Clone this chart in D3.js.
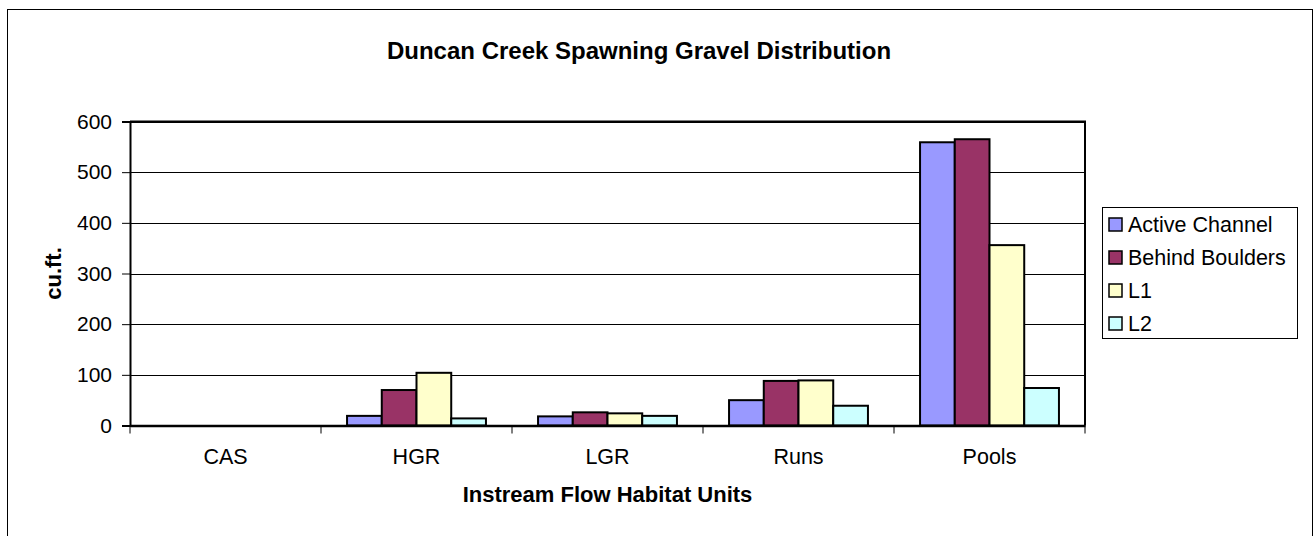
<!DOCTYPE html>
<html>
<head>
<meta charset="utf-8">
<script src="https://cdn.jsdelivr.net/npm/d3@7"></script>
<style>
  body { margin: 0; background: #fff; }
  svg { font-family: "Liberation Sans", Arial, sans-serif; }
</style>
</head>
<body>
<svg id="chart" width="1314" height="536"></svg>
<script>
// Data
const categories = ['CAS', 'HGR', 'LGR', 'Runs', 'Pools'];
const seriesNames = ['Active Channel', 'Behind Boulders', 'L1', 'L2'];
const activeChannel = [0, 19, 18, 50, 559];
const behindBoulders = [0, 70, 26, 88, 565];
const l1 = [0, 104, 24, 89, 356];
const l2 = [0, 14, 19, 39, 74];
const seriesColors = ['#9999FF', '#993366', '#FFFFCC', '#CCFFFF'];
const yTicks = [0, 100, 200, 300, 400, 500, 600];

const seriesValues = [activeChannel, behindBoulders, l1, l2];

const svg = d3.select('#chart');

// Outer chart frame
svg.append('rect')
    .attr('x', 7.5).attr('y', 9.5)
    .attr('width', 1305).attr('height', 540)
    .attr('fill', '#fff')
    .attr('stroke', '#000')
    .attr('stroke-width', 1);

const plot = { left: 130, right: 1085, top: 121.5, bottom: 425.5 };

const x = d3.scaleBand()
    .domain(categories)
    .range([plot.left, plot.right])
    .padding(0);

// 150% gap width between groups
const xInner = d3.scaleBand()
    .domain(seriesNames)
    .range([0, x.bandwidth()])
    .paddingInner(0)
    .paddingOuter(0.75);

const y = d3.scaleLinear()
    .domain([0, 600])
    .range([plot.bottom, plot.top]);

// Plot area
svg.append('rect')
    .attr('x', plot.left).attr('y', plot.top)
    .attr('width', plot.right - plot.left)
    .attr('height', plot.bottom - plot.top)
    .attr('fill', '#fff');

// Gridlines
svg.append('g')
    .selectAll('line')
    .data(yTicks.filter(d => d > 0))
    .enter()
    .append('line')
    .attr('x1', plot.left).attr('x2', plot.right)
    .attr('y1', d => Math.round(y(d)) + 0.5)
    .attr('y2', d => Math.round(y(d)) + 0.5)
    .attr('stroke', '#000')
    .attr('stroke-width', 1);

// Plot border (top / right)
svg.append('path')
    .attr('d', `M${plot.left},${plot.top}H${plot.right}V${plot.bottom}`)
    .attr('fill', 'none')
    .attr('stroke', '#000')
    .attr('stroke-width', 2);

// Bars
const groups = svg.append('g')
    .selectAll('g')
    .data(categories)
    .enter()
    .append('g')
    .attr('transform', d => `translate(${x(d)},0)`);

groups.selectAll('rect')
    .data((c, ci) => seriesNames.map((s, si) => ({ s, si, v: seriesValues[si][ci] })))
    .enter()
    .filter(d => d.v > 0)
    .append('rect')
    .attr('x', d => xInner(d.s))
    .attr('y', d => y(d.v))
    .attr('width', xInner.bandwidth())
    .attr('height', d => y(0) - y(d.v))
    .attr('fill', d => seriesColors[d.si])
    .attr('stroke', '#000')
    .attr('stroke-width', 2);

// Y axis
const yAxis = svg.append('g')
    .attr('transform', `translate(${plot.left},0)`)
    .call(d3.axisLeft(y).tickValues(yTicks).tickSize(8).tickPadding(10));
yAxis.select('.domain').attr('stroke-width', 2);
yAxis.selectAll('.tick text')
    .style('font-size', '21px')
    .attr('fill', '#000');

// X axis
const xAxis = svg.append('g')
    .attr('transform', `translate(0,${plot.bottom})`)
    .call(d3.axisBottom(x).tickSize(0).tickPadding(23));
xAxis.select('.domain').attr('stroke-width', 2.5);
xAxis.selectAll('.tick text')
    .style('font-size', '21.5px')
    .attr('fill', '#000');

// Category separator ticks
svg.append('g')
    .selectAll('line')
    .data(categories.concat(['__end']))
    .enter()
    .append('line')
    .attr('x1', (d, i) => plot.left + i * x.bandwidth())
    .attr('x2', (d, i) => plot.left + i * x.bandwidth())
    .attr('y1', plot.bottom)
    .attr('y2', plot.bottom + 8)
    .attr('stroke', '#000')
    .attr('stroke-width', 1);

// Title
svg.append('text')
    .attr('x', 639)
    .attr('y', 59)
    .attr('text-anchor', 'middle')
    .style('font-size', '24px')
    .style('font-weight', 'bold')
    .text('Duncan Creek Spawning Gravel Distribution');

// Axis titles
svg.append('text')
    .attr('x', (plot.left + plot.right) / 2)
    .attr('y', 502)
    .attr('text-anchor', 'middle')
    .style('font-size', '22px')
    .style('font-weight', 'bold')
    .text('Instream Flow Habitat Units');

svg.append('text')
    .attr('transform', `translate(61,${(plot.top + plot.bottom) / 2}) rotate(-90)`)
    .attr('text-anchor', 'middle')
    .style('font-size', '22px')
    .style('font-weight', 'bold')
    .text('cu.ft.');

// Legend
const legend = svg.append('g');
legend.append('rect')
    .attr('x', 1102.5).attr('y', 207.5)
    .attr('width', 195).attr('height', 131)
    .attr('fill', '#fff')
    .attr('stroke', '#000')
    .attr('stroke-width', 1);

const legendItems = legend.selectAll('g.item')
    .data(seriesNames)
    .enter()
    .append('g')
    .attr('class', 'item')
    .attr('transform', (d, i) => `translate(1109,${224.5 + i * 33})`);

legendItems.append('rect')
    .attr('x', 0).attr('y', -6.5)
    .attr('width', 13).attr('height', 13)
    .attr('fill', (d, i) => seriesColors[i])
    .attr('stroke', '#000')
    .attr('stroke-width', 1.5);

legendItems.append('text')
    .attr('x', 19)
    .attr('y', 7.5)
    .style('font-size', '21.5px')
    .text(d => d);
</script>
</body>
</html>
